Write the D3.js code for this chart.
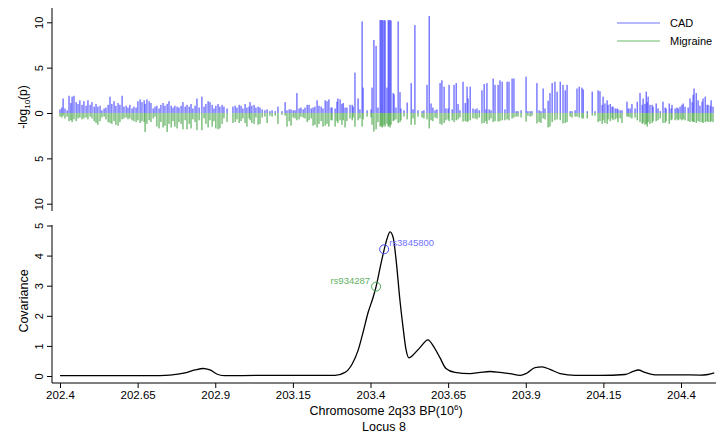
<!DOCTYPE html>
<html><head><meta charset="utf-8">
<script src="https://cdn.jsdelivr.net/npm/d3@7"></script>
<style>
body{margin:0;background:#fff}
svg{display:block}
text{font-family:"Liberation Sans",Arial,Helvetica,sans-serif;fill:#000}
</style>
</head><body>
<svg id="c" width="720" height="434"></svg>
<script>
// ---------------- DATA ----------------
const snpPos = [
202.400,202.406,202.410,202.416,202.423,202.429,202.435,202.439,202.445,202.452,
202.458,202.464,202.471,202.477,202.484,202.490,202.497,202.503,202.510,202.516,
202.522,202.529,202.535,202.542,202.548,202.555,202.561,202.567,202.574,202.580,
202.587,202.593,202.600,202.606,202.613,202.619,202.625,202.632,202.638,202.645,
202.651,202.658,202.664,202.671,202.674,202.680,202.687,202.693,202.700,202.706,
202.712,202.719,202.725,202.732,202.738,202.745,202.751,202.758,202.764,202.770,
202.777,202.783,202.790,202.796,202.803,202.809,202.816,202.822,202.828,202.835,
202.841,202.848,202.857,202.864,202.870,202.877,202.883,202.890,202.896,202.902,
202.909,202.915,202.922,202.928,
202.938,202.957,202.964,202.970,202.977,202.983,202.989,202.996,203.002,203.009,
203.012,203.018,203.025,203.031,203.038,203.044,203.051,203.060,203.067,203.076,
203.083,203.093,203.102,203.115,203.125,203.131,203.138,203.144,203.151,203.157,
203.163,203.170,203.176,203.183,203.189,203.196,203.202,203.209,203.215,203.221,
203.228,203.234,203.241,203.247,203.254,203.260,203.266,203.273,
203.276,203.286,203.292,203.295,203.302,203.308,203.312,203.318,203.324,203.334,
203.341,203.344,203.350,203.360,203.366,203.373,203.376,203.389,203.402,203.405,
203.411,203.418,203.424,203.431,203.434,203.437,203.440,203.444,203.447,203.453,
203.457,203.460,203.463,203.466,203.473,203.476,203.482,203.489,203.495,203.498,
203.508,203.518,203.531,203.537,203.543,203.553,203.566,203.572,203.582,203.589,
203.595,203.601,203.608,203.614,203.624,203.630,203.637,203.643,203.650,203.653,
203.663,203.669,203.676,203.682,203.688,203.698,203.705,203.711,203.714,203.721,
203.730,203.737,203.743,203.750,
203.759,203.766,203.772,203.775,203.782,203.788,203.795,203.801,203.811,203.817,
203.824,203.833,203.840,203.846,203.856,203.862,203.869,203.875,203.885,203.901,
203.907,203.914,203.920,203.936,203.943,203.949,203.956,203.962,203.972,203.978,
203.985,
203.994,204.001,204.011,204.020,204.027,204.033,204.043,204.049,204.059,204.065,
204.072,204.081,204.085,204.098,204.114,204.123,204.133,204.139,204.146,204.149,
204.155,204.162,204.165,204.172,204.178,204.181,204.188,204.194,204.197,204.204,
204.210,204.226,204.230,204.236,204.242,204.252,204.259,204.268,204.275,204.278,
204.284,204.288,204.291,204.294,204.300,204.307,204.310,204.320,204.326,204.333,
204.342,204.349,204.352,204.362,204.368,204.371,204.381,204.387,204.391,204.397,
204.403,204.407,204.413,204.423,204.429,204.436,204.439,204.442,204.449,204.455,
204.461,204.468,204.471,204.478,204.484,204.487,204.494,204.497,204.503
];
const cadLogP = [
0.4,0.6,1.6,0.5,0.3,1.9,1.1,1.8,1.9,1.2,
1.0,1.4,0.9,1.3,0.8,1.4,0.9,1.2,0.7,1.0,
0.7,0.8,0.3,0.5,0.6,0.9,1.8,1.0,1.3,0.8,
1.1,0.9,1.9,0.7,0.8,0.6,0.9,0.5,0.7,0.6,
1.3,1.5,1.2,1.4,1.0,1.5,1.3,1.1,0.5,0.7,
0.8,0.5,0.9,1.1,0.8,1.0,1.3,0.8,0.6,0.8,
0.7,0.6,0.8,1.2,0.7,0.9,0.7,1.0,0.5,0.8,
1.6,0.6,1.8,0.7,1.0,1.3,1.2,0.9,0.5,0.8,
1.0,0.7,0.9,0.7,
0.5,0.7,0.8,0.6,0.9,0.8,0.5,1.0,0.6,0.7,
1.2,0.8,0.9,0.6,0.7,0.6,0.4,0.3,0.4,0.2,
0.3,0.2,0.7,0.2,1.2,0.3,0.4,0.4,0.3,0.3,
2.2,0.5,0.6,0.4,0.6,0.9,0.9,0.5,0.6,0.7,
1.4,0.8,0.7,0.5,1.4,1.3,1.5,0.6,
0.6,0.5,1.25,1.6,1.5,1.0,1.1,0.6,0.6,0.9,
0.9,0.7,4.45,1.6,0.4,10.1,2.8,0.3,0.4,2.8,
8.05,7.4,0.6,10.25,10.25,10.25,10.2,10.25,10.2,2.8,
10.25,10.2,10.25,10.2,2.2,2.05,0.6,10.1,2.3,0.5,
0.3,1.15,3.3,0.4,9.7,0.3,0.2,0.3,3.1,10.7,
1.05,0.6,0.3,0.4,3.3,3.6,2.9,0.5,0.5,3.1,
0.4,3.1,3.3,1.0,0.3,3.45,1.1,2.9,1.6,2.9,
0.5,0.4,0.5,0.3,
2.5,3.2,0.4,3.3,0.4,0.3,3.8,3.1,3.1,3.6,
3.45,0.4,3.45,3.45,3.8,3.8,0.2,0.2,0.3,4.0,
0.2,0.2,0.2,3.3,0.3,0.2,2.7,0.5,1.35,2.2,
3.3,
3.45,2.35,3.45,3.1,2.5,3.1,0.2,0.2,0.3,2.7,
2.9,2.8,2.6,0.2,2.35,0.2,2.5,2.4,0.9,1.8,
1.05,1.4,0.9,1.0,0.7,0.7,0.5,0.5,0.4,0.3,
0.3,1.25,0.5,0.5,1.0,0.5,1.25,2.2,0.9,1.6,
1.0,2.35,1.2,1.8,0.9,0.9,0.7,1.05,0.5,0.2,
1.25,0.6,0.5,1.05,0.5,0.9,0.5,0.6,0.5,0.7,
0.9,1.05,0.7,0.6,1.6,1.2,2.0,2.7,2.2,1.4,
0.8,1.25,1.6,1.8,0.9,0.9,0.8,1.4,0.7
];
const migLogP = [
0.4,0.5,0.3,0.6,0.4,0.9,0.8,1.0,0.7,0.9,
0.6,0.5,0.7,0.6,0.5,0.7,0.4,0.6,0.9,1.1,
1.3,0.9,0.5,0.4,0.7,1.0,1.1,1.2,0.9,1.3,
1.4,1.0,0.7,0.6,0.5,0.7,0.6,0.8,0.9,1.0,
0.8,1.1,0.9,1.0,2.1,1.2,0.8,1.0,0.6,0.4,
1.5,1.7,1.0,1.6,1.4,2.1,1.2,1.6,0.9,1.5,
1.7,1.0,1.2,1.8,0.8,1.8,1.2,1.7,0.7,1.0,
1.9,0.8,1.9,0.6,1.2,1.6,0.8,1.5,0.9,1.7,
1.8,1.7,1.2,0.6,
1.0,1.1,1.0,0.7,1.1,0.9,0.6,1.1,1.5,0.6,
0.8,1.1,1.2,0.5,1.3,1.2,0.5,0.4,1.1,0.3,
0.4,0.3,1.2,0.2,0.3,1.5,0.9,1.4,0.5,0.6,
0.8,0.7,0.4,0.5,0.6,1.0,0.8,0.6,1.4,1.3,
1.6,1.2,0.9,1.5,1.4,1.2,1.5,0.8,
0.8,1.5,0.9,1.1,0.8,1.3,0.8,1.6,0.9,0.6,
0.8,0.5,1.5,0.8,0.6,1.5,0.7,0.4,0.5,1.3,
2.05,1.8,1.0,1.5,1.4,1.6,1.5,1.3,1.5,1.2,
1.5,1.4,1.6,1.3,0.9,0.8,0.7,1.1,1.0,0.8,
0.4,0.7,1.3,0.6,1.3,0.4,0.5,0.6,0.7,1.7,
0.8,0.9,0.5,0.6,1.2,1.3,1.1,0.8,0.7,0.9,
0.8,1.0,0.8,0.7,0.5,0.95,0.9,1.0,0.9,0.8,
0.6,0.6,0.7,0.5,
1.15,1.1,0.9,1.2,0.8,0.6,1.0,0.9,0.95,0.9,
0.8,0.8,0.7,0.8,0.6,0.5,0.4,0.4,0.5,0.95,
0.3,0.4,0.3,1.15,1.0,1.1,0.6,0.7,1.6,1.5,
1.0,
0.8,0.7,0.8,1.15,1.1,1.0,0.4,0.5,0.4,0.4,
0.5,0.6,0.6,0.6,0.3,0.3,1.0,0.9,1.2,0.8,
1.1,1.2,0.7,0.9,0.6,0.8,0.7,0.6,1.0,0.6,
1.1,0.4,0.4,0.5,0.6,0.5,0.8,1.0,1.2,1.1,
1.3,1.2,1.5,1.0,1.2,1.1,0.9,0.9,0.8,0.6,
1.1,1.1,0.9,1.2,0.8,0.7,0.8,0.7,0.8,0.7,
0.8,0.7,0.8,0.9,1.0,0.9,1.0,1.0,1.1,0.9,
1.0,1.0,1.1,1.0,0.9,1.0,1.0,0.9,1.0
];
const covPos = [202.400,202.529,202.690,202.754,202.803,202.835,202.861,202.883,202.909,202.932,
203.044,203.173,203.286,203.318,203.341,203.360,203.376,203.392,203.408,203.418,
203.431,203.444,203.453,203.463,203.473,203.482,203.495,203.505,203.514,203.524,
203.537,203.560,203.585,203.605,203.624,203.643,203.672,203.721,203.753,203.785,
203.817,203.849,203.882,203.904,203.930,203.953,203.978,204.011,204.059,204.139,
204.220,204.246,204.262,204.284,204.316,204.397,204.461,204.487,204.507];
const covVal = [0.01,0.01,0.01,0.03,0.10,0.20,0.25,0.20,0.05,0.01,
0.02,0.02,0.02,0.12,0.40,0.85,1.45,2.10,2.60,2.97,
3.60,4.20,4.55,4.79,4.60,3.90,2.50,1.60,0.90,0.60,
0.70,0.95,1.20,0.95,0.60,0.25,0.12,0.08,0.12,0.15,
0.12,0.08,0.02,0.10,0.28,0.30,0.22,0.08,0.02,0.02,
0.05,0.15,0.20,0.12,0.04,0.04,0.03,0.05,0.10];
const leadSnps = ["rs3845800","rs934287"];
const leadPos = [203.444, 203.418];
const leadCov = [4.21, 2.97];
const xTicks = [202.4,202.65,202.9,203.15,203.4,203.65,203.9,204.15,204.4];
const topTicks = [-10,-5,0,5,10];
const botTicks = [0,1,2,3,4,5];
const seriesNames = ["CAD","Migraine"];

// ---------------- DRAW ----------------
const blue = "#4a4aff", green = "#4ca64c";
const svg = d3.select("#c");
const x = d3.scaleLinear().domain([202.4,204.4]).range([60,681]);
const yTop = d3.scaleLinear().domain([-10,10]).range([203.7,22.3]);
const yBot = d3.scaleLinear().domain([0,5]).range([376,225.5]);

const bars = svg.append("g");
bars.selectAll("rect.cad").data(snpPos).join("rect").attr("class","cad")
  .attr("x", d => x(d) - 0.6).attr("width", 1.2)
  .attr("y", (d,i) => yTop(cadLogP[i]))
  .attr("height", (d,i) => yTop(0) - yTop(cadLogP[i]))
  .attr("fill", blue).attr("fill-opacity", 0.9);
bars.selectAll("rect.mig").data(snpPos).join("rect").attr("class","mig")
  .attr("x", d => x(d) - 0.6).attr("width", 1.2)
  .attr("y", yTop(0))
  .attr("height", (d,i) => yTop(-migLogP[i]) - yTop(0))
  .attr("fill", green).attr("fill-opacity", 0.9);

// top y axis
const gTop = svg.append("g").attr("transform","translate(52,0)")
  .call(d3.axisLeft(yTop).tickValues(topTicks).tickSize(5).tickFormat(d => Math.abs(d)));
gTop.select(".domain").remove();
gTop.append("line").attr("x1",0).attr("x2",0).attr("y1",8).attr("y2",211).attr("stroke","#000");
gTop.selectAll(".tick text").attr("x",0).attr("y",-9).attr("dy",0)
  .attr("transform","rotate(-90)").attr("text-anchor","middle").style("font-size","11px");

// bottom y axis
const gBot = svg.append("g").attr("transform","translate(52,0)")
  .call(d3.axisLeft(yBot).tickValues(botTicks).tickSize(5).tickFormat(d3.format("d")));
gBot.select(".domain").remove();
gBot.append("line").attr("x1",0).attr("x2",0).attr("y1",225).attr("y2",383).attr("stroke","#000");
gBot.selectAll(".tick text").attr("x",0).attr("y",-9).attr("dy",0)
  .attr("transform","rotate(-90)").attr("text-anchor","middle").style("font-size","11px");

// x axis
const gX = svg.append("g").attr("transform","translate(0,383)")
  .call(d3.axisBottom(x).tickValues(xTicks).tickSize(5).tickFormat(d => String(+d.toFixed(2))));
gX.select(".domain").remove();
gX.append("line").attr("x1",52).attr("x2",716).attr("y1",0).attr("y2",0).attr("stroke","#000");
gX.selectAll(".tick text").style("font-size","11.5px");
svg.selectAll(".tick line").attr("stroke","#000");
svg.selectAll("g").attr("font-family",null);

// covariance curve
const line = d3.line().x((d,i) => x(d)).y((d,i) => yBot(covVal[i])).curve(d3.curveMonotoneX);
svg.append("path").attr("d", line(covPos)).attr("fill","none").attr("stroke","#000").attr("stroke-width",1.3);

// lead SNPs
const leadCol = [blue, green];
svg.selectAll("circle.lead").data(leadPos).join("circle").attr("class","lead")
  .attr("cx", d => x(d)).attr("cy", (d,i) => yBot(leadCov[i])).attr("r", 4.5)
  .attr("fill","none").attr("stroke", (d,i) => leadCol[i]).attr("stroke-width",1);
svg.append("text").attr("x", x(leadPos[0]) + 5).attr("y", yBot(leadCov[0]) - 3)
  .style("font-size","9.5px").style("fill","#7272ff").text(leadSnps[0]);
svg.append("text").attr("x", x(leadPos[1]) - 6).attr("y", yBot(leadCov[1]) - 3)
  .attr("text-anchor","end").style("font-size","9.5px").style("fill","#62b262").text(leadSnps[1]);

// legend
const lg = svg.append("g");
seriesNames.forEach((n,i) => {
  const yy = 23 + i*18;
  lg.append("line").attr("x1",617).attr("x2",660).attr("y1",yy).attr("y2",yy)
    .attr("stroke", i ? "#6cbc6c" : "#7272ff").attr("stroke-width",1.2);
  lg.append("text").attr("x",670).attr("y",yy+4).style("font-size","11px").text(n);
});

// axis titles
const t1 = svg.append("text").attr("transform","translate(27,107) rotate(-90)")
  .attr("text-anchor","middle").style("font-size","12px");
t1.append("tspan").text("-log");
t1.append("tspan").attr("dy",3).style("font-size","8px").text("10");
t1.append("tspan").attr("dy",-3).text("(p)");
svg.append("text").attr("transform","translate(27.5,301) rotate(-90)")
  .attr("text-anchor","middle").style("font-size","12.5px").text("Covariance");
const t2 = svg.append("text").attr("x",386).attr("y",415).attr("text-anchor","middle").style("font-size","12.5px");
t2.append("tspan").text("Chromosome 2q33 BP(10");
t2.append("tspan").attr("dy",-5).style("font-size","8px").text("6");
t2.append("tspan").attr("dy",5).text(")");
svg.append("text").attr("x",384).attr("y",431).attr("text-anchor","middle").style("font-size","12.5px").text("Locus 8");
</script>
</body></html>
